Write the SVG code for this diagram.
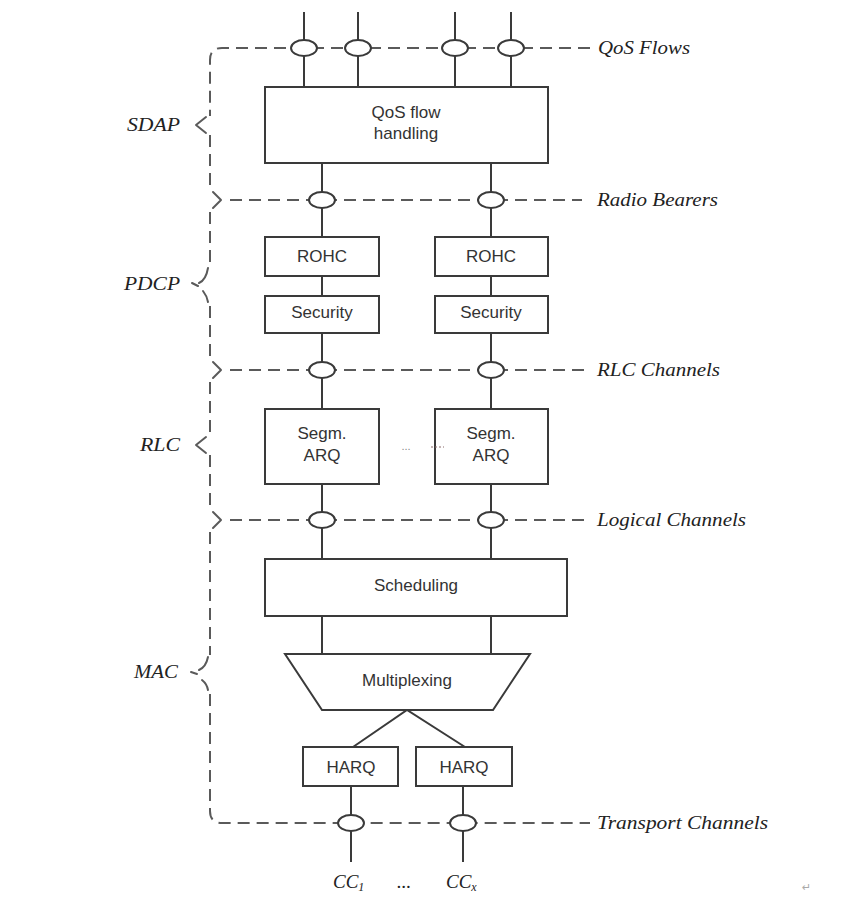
<svg xmlns="http://www.w3.org/2000/svg" width="849" height="897" viewBox="0 0 849 897">
<style>
.dash{fill:none;stroke:#5a5a5a;stroke-width:2;stroke-dasharray:12 7}
.tip{fill:none;stroke:#5a5a5a;stroke-width:2;stroke-linecap:round;stroke-linejoin:round}
.wire{fill:none;stroke:#3a3a3a;stroke-width:2}
.box{fill:#fff;stroke:#3a3a3a;stroke-width:2}
.ell{fill:#fff;stroke:#3a3a3a;stroke-width:2}
.bt{font-family:"Liberation Sans",Arial,sans-serif;font-size:17px;fill:#333;text-anchor:middle}
.lab{font-family:"Liberation Serif","Times New Roman",serif;font-style:italic;font-size:19px;fill:#222}
</style>
<rect width="849" height="897" fill="#fff"/>
<g id="brace">
<path class="dash" d="M590,48 L222,48 Q210,48 210,60 L210,116"/>
<path class="tip" d="M206,117 L196,125 L206,133"/>
<path class="dash" d="M210,135 L210,188"/>
<path class="tip" d="M213,192 L221,200 L213,208"/>
<path class="dash" d="M210,212 L210,266"/>
<path class="tip" d="M208,268 Q206,280 199,283 M192,283 L198,286 M203,291 Q207,296 208,302"/>
<path class="dash" d="M210,306 L210,359"/>
<path class="tip" d="M213,362 L221,370 L213,378"/>
<path class="dash" d="M210,382 L210,436"/>
<path class="tip" d="M206,437 L196,445 L206,453"/>
<path class="dash" d="M210,455 L210,509"/>
<path class="tip" d="M213,512 L221,520 L213,528"/>
<path class="dash" d="M210,532 L210,655"/>
<path class="tip" d="M208,657 Q206,667 199,670 M191,672 L197,674 M202,680 Q207,684 208,690"/>
<path class="dash" d="M210,694 L210,811 Q210,823 222,823 L590,823"/>
</g>
<g id="channel-lines">
<path class="dash" d="M230,200 L582,200"/>
<path class="dash" d="M230,370 L590,370"/>
<path class="dash" d="M230,520 L590,520"/>
</g>
<g id="connectors">
<path class="wire" d="M304,12 V87 M358,12 V87 M455,12 V87 M511,12 V87"/>
<path class="wire" d="M322,163 V237 M491,163 V237"/>
<path class="wire" d="M322,276 V296 M491,276 V296"/>
<path class="wire" d="M322,333 V409 M491,333 V409"/>
<path class="wire" d="M322,484 V559 M491,484 V559"/>
<path class="wire" d="M322,616 V654 M491,616 V654"/>
<path class="wire" d="M353,747 L407,710 L465,747"/>
<path class="wire" d="M351,786 V862 M463,786 V862"/>
<ellipse class="ell" cx="304" cy="48" rx="13" ry="8"/>
<ellipse class="ell" cx="358" cy="48" rx="13" ry="8"/>
<ellipse class="ell" cx="455" cy="48" rx="13" ry="8"/>
<ellipse class="ell" cx="511" cy="48" rx="13" ry="8"/>
<ellipse class="ell" cx="322" cy="200" rx="13" ry="8"/>
<ellipse class="ell" cx="491" cy="200" rx="13" ry="8"/>
<ellipse class="ell" cx="322" cy="370" rx="13" ry="8"/>
<ellipse class="ell" cx="491" cy="370" rx="13" ry="8"/>
<ellipse class="ell" cx="322" cy="520" rx="13" ry="8"/>
<ellipse class="ell" cx="491" cy="520" rx="13" ry="8"/>
<ellipse class="ell" cx="351" cy="823" rx="13" ry="8"/>
<ellipse class="ell" cx="463" cy="823" rx="13" ry="8"/>
</g>
<g id="qos-flow-handling">
<rect class="box" x="265" y="87" width="283" height="76"/>
<text class="bt" x="406" y="118">QoS flow</text>
<text class="bt" x="406" y="139">handling</text>
</g>
<g id="rohc-1"><rect class="box" x="265" y="237" width="114" height="39"/><text class="bt" x="322" y="262">ROHC</text></g>
<g id="rohc-2"><rect class="box" x="435" y="237" width="113" height="39"/><text class="bt" x="491" y="262">ROHC</text></g>
<g id="security-1"><rect class="box" x="265" y="296" width="114" height="37"/><text class="bt" x="322" y="318">Security</text></g>
<g id="security-2"><rect class="box" x="435" y="296" width="113" height="37"/><text class="bt" x="491" y="318">Security</text></g>
<g id="segm-arq-1"><rect class="box" x="265" y="409" width="114" height="75"/><text class="bt" x="322" y="439">Segm.</text><text class="bt" x="322" y="461">ARQ</text></g>
<g id="segm-arq-2"><rect class="box" x="435" y="409" width="113" height="75"/><text class="bt" x="491" y="439">Segm.</text><text class="bt" x="491" y="461">ARQ</text></g>
<g id="rlc-ellipsis">
<text x="406" y="450" font-family="Liberation Sans,Arial,sans-serif" font-size="11" fill="#888" text-anchor="middle">...</text>
<path d="M431,447 H444" stroke="#8a6a6a" stroke-width="1" stroke-dasharray="2 2"/>
</g>
<g id="scheduling"><rect class="box" x="265" y="559" width="302" height="57"/><text class="bt" x="416" y="591">Scheduling</text></g>
<g id="multiplexing"><path class="box" d="M285,654 L530,654 L493,710 L322,710 Z"/><text class="bt" x="407" y="686">Multiplexing</text></g>
<g id="harq-1"><rect class="box" x="303" y="747" width="95" height="39"/><text class="bt" x="351" y="773">HARQ</text></g>
<g id="harq-2"><rect class="box" x="416" y="747" width="96" height="39"/><text class="bt" x="464" y="773">HARQ</text></g>
<g id="labels">
<text class="lab" x="127" y="131" textLength="53" lengthAdjust="spacingAndGlyphs">SDAP</text>
<text class="lab" x="124" y="290" textLength="56" lengthAdjust="spacingAndGlyphs">PDCP</text>
<text class="lab" x="140" y="451" textLength="40" lengthAdjust="spacingAndGlyphs">RLC</text>
<text class="lab" x="134" y="678" textLength="44" lengthAdjust="spacingAndGlyphs">MAC</text>
<text class="lab" x="598" y="54" textLength="92" lengthAdjust="spacingAndGlyphs">QoS Flows</text>
<text class="lab" x="597" y="206" textLength="121" lengthAdjust="spacingAndGlyphs">Radio Bearers</text>
<text class="lab" x="597" y="376" textLength="123" lengthAdjust="spacingAndGlyphs">RLC Channels</text>
<text class="lab" x="597" y="526" textLength="149" lengthAdjust="spacingAndGlyphs">Logical Channels</text>
<text class="lab" x="597" y="829" textLength="171" lengthAdjust="spacingAndGlyphs">Transport Channels</text>
<text class="lab" x="333" y="888">CC<tspan font-size="12" dy="3">1</tspan></text>
<text class="lab" x="397" y="888" font-size="14">...</text>
<text class="lab" x="446" y="888">CC<tspan font-size="12" dy="3">x</tspan></text>
<text x="802" y="891" font-family="DejaVu Sans,sans-serif" font-size="11" fill="#aaa">↵</text>
</g>
</svg>
